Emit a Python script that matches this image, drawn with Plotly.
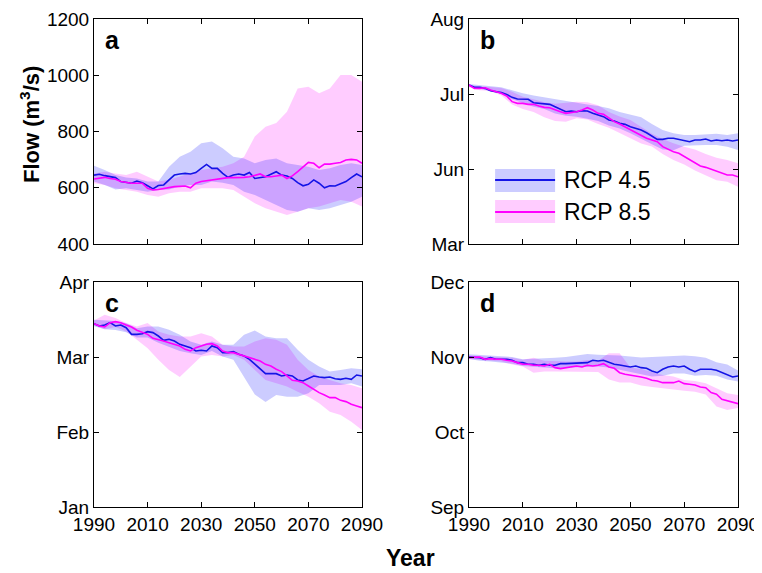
import plotly.graph_objects as go

YEARS2 = list(range(1990, 2091, 2))
YEARS4 = list(range(1990, 2091, 4))

# ---------------- Panel a : flow (m3/s) ----------------
a_rcp45 = [645, 648, 643, 640, 636, 622, 618, 616, 624, 618, 607, 596, 608, 610, 628, 645, 649, 651, 649, 654,
           669, 683, 669, 669, 651, 637, 645, 649, 645, 654, 633, 637, 639, 648, 657, 645, 642, 633, 618, 607,
           612, 628, 616, 600, 607, 606, 613, 622, 636, 649, 639]
a_rcp85 = [631, 634, 637, 633, 630, 622, 618, 616, 616, 616, 598, 592, 594, 598, 600, 604, 605, 606, 600, 616,
           622, 625, 628, 630, 633, 636, 636, 636, 637, 639, 645, 649, 639, 639, 642, 645, 633, 642, 657, 675,
           690, 687, 671, 684, 684, 687, 690, 699, 701, 699, 687]
a_rcp45_hi = [678, 663, 645, 636, 633, 622, 622, 675, 710, 728, 758, 764, 740, 710, 704, 687, 699, 704, 687, 681,
              675, 663, 669, 681, 687, 681]
a_rcp45_lo = [622, 610, 594, 598, 592, 586, 592, 594, 604, 610, 610, 622, 618, 610, 586, 574, 556, 539, 521, 515,
              527, 521, 527, 539, 550, 568]
a_rcp85_hi = [651, 657, 651, 645, 657, 639, 622, 628, 639, 651, 663, 669, 675, 687, 710, 782, 817, 830, 870, 953,
              959, 936, 953, 1001, 1001, 977]
a_rcp85_lo = [616, 610, 598, 592, 586, 574, 568, 580, 586, 586, 598, 598, 598, 592, 568, 545, 527, 515, 503, 515,
              527, 533, 545, 556, 550, 533]

# ---------------- Panel b : timing (month units) ----------------
b_rcp45 = [7.12, 7.089, 7.089, 7.075, 7.044, 7.031, 7.018, 6.995, 6.955, 6.933, 6.933, 6.929, 6.884, 6.875, 6.862,
           6.862, 6.831, 6.795, 6.764, 6.773, 6.764, 6.777, 6.773, 6.742, 6.72, 6.698, 6.653, 6.64, 6.609, 6.595,
           6.564, 6.542, 6.52, 6.484, 6.44, 6.395, 6.395, 6.409, 6.409, 6.395, 6.386, 6.364, 6.386, 6.386, 6.40,
           6.373, 6.386, 6.377, 6.386, 6.373, 6.386]
b_rcp85 = [7.12, 7.075, 7.075, 7.084, 7.053, 7.031, 7.009, 6.973, 6.898, 6.875, 6.875, 6.862, 6.862, 6.84, 6.822,
           6.817, 6.786, 6.764, 6.742, 6.751, 6.764, 6.786, 6.817, 6.786, 6.742, 6.729, 6.675, 6.631, 6.6, 6.564,
           6.52, 6.484, 6.453, 6.409, 6.386, 6.364, 6.298, 6.262, 6.231, 6.209, 6.164, 6.129, 6.075, 6.04, 6.022,
           5.995, 5.973, 5.942, 5.92, 5.92, 5.897]
b_rcp45_hi = [7.133, 7.12, 7.11, 7.09, 7.05, 7.009, 6.98, 6.955, 6.93, 6.90, 6.876, 6.86, 6.84, 6.81, 6.76, 6.72,
              6.69, 6.60, 6.52, 6.476, 6.453, 6.453, 6.465, 6.47, 6.453, 6.476]
b_rcp45_lo = [7.098, 7.07, 7.04, 7.0, 6.93, 6.88, 6.83, 6.80, 6.74, 6.71, 6.698, 6.67, 6.64, 6.58, 6.54, 6.476,
              6.40, 6.33, 6.26, 6.25, 6.31, 6.32, 6.32, 6.32, 6.298, 6.253]
b_rcp85_hi = [7.12, 7.10, 7.095, 7.08, 7.03, 6.964, 6.93, 6.89, 6.87, 6.88, 6.898, 6.89, 6.85, 6.76, 6.70, 6.653,
              6.56, 6.47, 6.40, 6.342, 6.298, 6.26, 6.20, 6.15, 6.12, 6.076]
b_rcp85_lo = [7.089, 7.05, 7.04, 6.98, 6.86, 6.80, 6.76, 6.69, 6.64, 6.631, 6.676, 6.66, 6.60, 6.55, 6.48, 6.41,
              6.34, 6.30, 6.20, 6.12, 6.06, 5.98, 5.92, 5.85, 5.83, 5.764]

# ---------------- Panel c ----------------
c_rcp45 = [3.445, 3.414, 3.427, 3.458, 3.414, 3.427, 3.391, 3.302, 3.302, 3.311, 3.338, 3.325, 3.28, 3.223, 3.236,
           3.214, 3.169, 3.147, 3.125, 3.08, 3.089, 3.08, 3.147, 3.125, 3.058, 3.058, 3.071, 3.036, 3.014, 2.969,
           2.902, 2.836, 2.778, 2.778, 2.778, 2.747, 2.76, 2.747, 2.694, 2.68, 2.716, 2.747, 2.734, 2.725, 2.734,
           2.711, 2.702, 2.716, 2.702, 2.76, 2.747]
c_rcp85 = [3.445, 3.414, 3.4, 3.458, 3.471, 3.458, 3.427, 3.4, 3.356, 3.325, 3.302, 3.249, 3.236, 3.214, 3.191,
           3.169, 3.147, 3.102, 3.08, 3.125, 3.147, 3.169, 3.178, 3.147, 3.08, 3.058, 3.058, 3.036, 3.014, 2.983,
           2.969, 2.947, 2.902, 2.88, 2.836, 2.805, 2.747, 2.689, 2.68, 2.658, 2.614, 2.569, 2.525, 2.494, 2.458,
           2.458, 2.422, 2.405, 2.369, 2.347, 2.325]
c_rcp45_hi = [3.497, 3.49, 3.48, 3.45, 3.385, 3.407, 3.407, 3.363, 3.296, 3.207, 3.162, 3.207, 3.162, 3.162, 3.296,
              3.354, 3.274, 3.251, 3.251, 3.095, 2.962, 2.873, 2.806, 2.828, 2.85, 2.837]
c_rcp45_lo = [3.41, 3.37, 3.36, 3.33, 3.26, 3.26, 3.19, 3.14, 3.08, 3.05, 3.028, 3.08, 3.006, 2.962, 2.739,
              2.50, 2.40, 2.494, 2.471, 2.471, 2.516, 2.627, 2.627, 2.627, 2.65, 2.605]
c_rcp85_hi = [3.488, 3.564, 3.519, 3.452, 3.407, 3.452, 3.341, 3.296, 3.274, 3.274, 3.318, 3.274, 3.162, 3.14, 3.14,
              3.207, 3.251, 3.229, 3.162, 2.962, 2.828, 2.739, 2.694, 2.65, 2.627, 2.583]
c_rcp85_lo = [3.42, 3.37, 3.40, 3.341, 3.229, 3.118, 2.962, 2.828, 2.735, 2.873, 3.006, 3.028, 3.006, 3.028, 2.962,
              2.828, 2.694, 2.65, 2.605, 2.538, 2.471, 2.382, 2.271, 2.226, 2.137, 2.025]

# ---------------- Panel d ----------------
d_rcp45 = [11.0, 10.991, 10.991, 10.969, 10.991, 10.969, 10.969, 10.969, 10.956, 10.925, 10.925, 10.903, 10.903,
           10.889, 10.903, 10.889, 10.889, 10.911, 10.911, 10.916, 10.925, 10.925, 10.925, 10.956, 10.947, 10.956,
           10.925, 10.903, 10.894, 10.88, 10.867, 10.88, 10.858, 10.849, 10.814, 10.791, 10.836, 10.867, 10.88,
           10.867, 10.88, 10.836, 10.805, 10.836, 10.836, 10.836, 10.823, 10.791, 10.769, 10.734, 10.747]
d_rcp85 = [10.991, 10.991, 11.0, 10.969, 10.978, 10.969, 10.969, 10.956, 10.947, 10.925, 10.903, 10.903, 10.889,
           10.889, 10.88, 10.903, 10.858, 10.845, 10.858, 10.867, 10.88, 10.867, 10.889, 10.88, 10.889, 10.911,
           10.867, 10.849, 10.791, 10.769, 10.76, 10.747, 10.734, 10.716, 10.689, 10.68, 10.658, 10.658, 10.658,
           10.68, 10.645, 10.636, 10.627, 10.6, 10.591, 10.525, 10.503, 10.436, 10.414, 10.391, 10.378]
d_rcp45_hi = [11.037, 11.03, 11.02, 11.01, 11.0, 10.97, 10.975, 10.98, 10.99, 11.0, 11.015, 11.04, 11.03, 11.03,
              11.02, 11.006, 10.995, 11.0, 11.01, 11.02, 11.02, 11.01, 10.99, 10.93, 10.90, 10.82]
d_rcp45_lo = [10.975, 10.95, 10.94, 10.93, 10.91, 10.881, 10.87, 10.86, 10.85, 10.855, 10.863, 10.868, 10.872,
              10.86, 10.828, 10.80, 10.761, 10.739, 10.75, 10.78, 10.78, 10.75, 10.761, 10.75, 10.70, 10.672]
d_rcp85_hi = [11.019, 11.01, 11.0, 11.0, 10.99, 10.962, 10.99, 10.95, 10.94, 10.939, 10.939, 10.96, 10.95, 11.05,
              11.05, 10.86, 10.84, 10.80, 10.76, 10.739, 10.694, 10.68, 10.65, 10.583, 10.516, 10.494]
d_rcp85_lo = [10.975, 10.96, 10.95, 10.94, 10.90, 10.872, 10.79, 10.806, 10.806, 10.806, 10.806, 10.81, 10.80,
              10.70, 10.66, 10.66, 10.62, 10.60, 10.583, 10.56, 10.55, 10.538, 10.50, 10.34, 10.293, 10.32]

X_TICKS = [1990, 2010, 2030, 2050, 2070, 2090]
A_TICKS = [400, 600, 800, 1000, 1200]
B_TICKVALS, B_TICKTEXT = [5, 6, 7, 8], ["Mar", "Jun", "Jul", "Aug"]
C_TICKVALS, C_TICKTEXT = [1, 2, 3, 4], ["Jan", "Feb", "Mar", "Apr"]
D_TICKVALS, D_TICKTEXT = [9, 10, 11, 12], ["Sep", "Oct", "Nov", "Dec"]

BLUE = "#1414e6"
PINK = "#ff00ff"
BLUE_FILL = "rgba(0,0,255,0.2)"
PINK_FILL = "rgba(255,0,255,0.2)"
FONT = "Liberation Sans, Arial, Helvetica, sans-serif"

fig = go.Figure()

panels = [
    ("x", "y", YEARS2, a_rcp45, a_rcp85, a_rcp45_hi, a_rcp45_lo, a_rcp85_hi, a_rcp85_lo),
    ("x2", "y2", YEARS2, b_rcp45, b_rcp85, b_rcp45_hi, b_rcp45_lo, b_rcp85_hi, b_rcp85_lo),
    ("x3", "y3", YEARS2, c_rcp45, c_rcp85, c_rcp45_hi, c_rcp45_lo, c_rcp85_hi, c_rcp85_lo),
    ("x4", "y4", YEARS2, d_rcp45, d_rcp85, d_rcp45_hi, d_rcp45_lo, d_rcp85_hi, d_rcp85_lo),
]

for xa, ya, lyears, l45, l85, h45, lo45, h85, lo85 in panels:
    for hi, lo, fc in ((h85, lo85, PINK_FILL), (h45, lo45, BLUE_FILL)):
        fig.add_trace(go.Scatter(x=YEARS4, y=hi, mode="lines", line=dict(width=0, color=fc),
                                 xaxis=xa, yaxis=ya, showlegend=False, hoverinfo="skip"))
        fig.add_trace(go.Scatter(x=YEARS4, y=lo, mode="lines", line=dict(width=0, color=fc),
                                 fill="tonexty", fillcolor=fc, xaxis=xa, yaxis=ya,
                                 showlegend=False, hoverinfo="skip"))
    fig.add_trace(go.Scatter(x=lyears, y=l45, mode="lines", line=dict(color=BLUE, width=1.6),
                             xaxis=xa, yaxis=ya, showlegend=False, name="RCP 4.5"))
    fig.add_trace(go.Scatter(x=lyears, y=l85, mode="lines", line=dict(color=PINK, width=1.6),
                             xaxis=xa, yaxis=ya, showlegend=False, name="RCP 8.5"))

# The page body has an 8px margin, so the figure is sized/offset to compensate.
OFF = 8
W, H = 762 - OFF, 573 - OFF


def px_x(v):
    return (v - OFF) / W


def px_y(v):
    return 1 - (v - OFF) / H


XD_L = [px_x(94), px_x(362)]
XD_R = [px_x(469), px_x(738)]
YD_T = [px_y(244), px_y(19)]
YD_B = [px_y(507), px_y(282)]

tickfont = dict(family=FONT, size=19, color="black")
common = dict(showline=True, linecolor="black", linewidth=1, mirror="ticks", ticks="inside",
              ticklen=5, tickcolor="black", showgrid=False, zeroline=False, tickfont=tickfont,
              automargin=False)


def xax(domain, anchor, labels):
    return dict(domain=domain, anchor=anchor, range=[1990, 2090], tickvals=X_TICKS,
                showticklabels=labels, **common)


def yax(domain, anchor, rng, tv, tt=None):
    d = dict(domain=domain, anchor=anchor, range=rng, tickvals=tv, **common)
    if tt is not None:
        d["ticktext"] = tt
    return d


fig.update_layout(
    width=W, height=H,
    margin=dict(l=0, r=0, t=0, b=0, autoexpand=False),
    paper_bgcolor="white", plot_bgcolor="white",
    showlegend=False,
    font=dict(family=FONT, color="black"),
    xaxis=xax(XD_L, "y", False),
    yaxis=yax(YD_T, "x", [400, 1200], A_TICKS),
    xaxis2=xax(XD_R, "y2", False),
    yaxis2=yax(YD_T, "x2", [5, 8], B_TICKVALS, B_TICKTEXT),
    xaxis3=xax(XD_L, "y3", True),
    yaxis3=yax(YD_B, "x3", [1, 4], C_TICKVALS, C_TICKTEXT),
    xaxis4=xax(XD_R, "y4", True),
    yaxis4=yax(YD_B, "x4", [9, 12], D_TICKVALS, D_TICKTEXT),
)

# panel letters
for letter, xa, ya in (("a", "x", "y"), ("b", "x2", "y2"), ("c", "x3", "y3"), ("d", "x4", "y4")):
    fig.add_annotation(text=f"<b>{letter}</b>", xref=f"{xa} domain", yref=f"{ya} domain",
                       x=0.035, y=0.905, xanchor="left", yanchor="middle", showarrow=False,
                       font=dict(family=FONT, size=25, color="black"))

# legend drawn inside panel b
for (y0, y1, yl, fc, lc, label) in ((0.231, 0.333, 0.284, BLUE_FILL, BLUE, "RCP 4.5"),
                                    (0.093, 0.196, 0.142, PINK_FILL, PINK, "RCP 8.5")):
    fig.add_shape(type="rect", xref="x2 domain", yref="y2 domain", x0=0.097, x1=0.32, y0=y0, y1=y1,
                  fillcolor=fc, line=dict(width=0))
    fig.add_shape(type="line", xref="x2 domain", yref="y2 domain", x0=0.097, x1=0.32, y0=yl, y1=yl,
                  line=dict(color=lc, width=2))
    fig.add_annotation(text=label, xref="x2 domain", yref="y2 domain", x=0.345, y=yl,
                       xanchor="left", yanchor="middle", showarrow=False,
                       font=dict(family=FONT, size=23, color="black"))

# axis titles
fig.add_annotation(text="<b>Flow (m<sup>3</sup>/s)</b>", xref="paper", yref="paper",
                   x=px_x(30), y=px_y(125), textangle=-90, showarrow=False,
                   xanchor="center", yanchor="middle", font=dict(family=FONT, size=22, color="black"))
fig.add_annotation(text="<b>Year</b>", xref="paper", yref="paper",
                   x=px_x(410), y=px_y(558), showarrow=False,
                   xanchor="center", yanchor="middle", font=dict(family=FONT, size=23, color="black"))

fig.write_html("out.html")
